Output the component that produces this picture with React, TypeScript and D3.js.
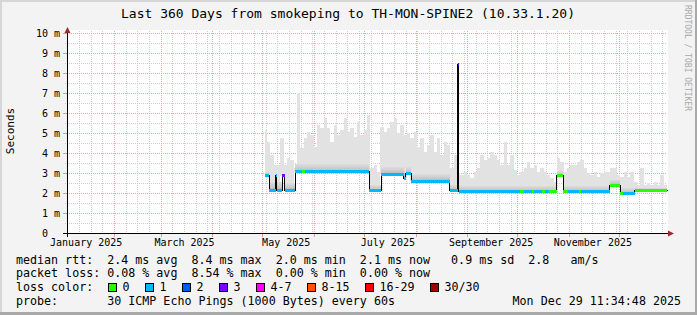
import React from 'react';
import * as d3 from 'd3';

// ---------- data ----------
const title = 'Last 360 Days from smokeping to TH-MON-SPINE2 (10.33.1.20)';
const startTime = new Date(2025, 0, 3, 11, 34, 48);
const endTime = new Date(2025, 11, 29, 11, 34, 48);

const yTickValues = [0, 1, 2, 3, 4, 5, 6, 7, 8, 9, 10];
const yTickLabels = ['0', '1 m', '2 m', '3 m', '4 m', '5 m', '6 m', '7 m', '8 m', '9 m', '10 m'];
const xLabelMonths = [0, 2, 4, 6, 8, 10];
const xLabelTexts = ['January 2025', 'March 2025', 'May 2025', 'July 2025', 'September 2025', 'November 2025'];

// smoke (max ping) samples, one every 2 days starting on day 119 of the window (ms)
const smokeFirstDay = 119;
const smokeStepDays = 2;
const smokeHigh = [
  5.18, 4.60, 3.93, 3.42, 3.42, 4.76, 3.42, 3.76, 3.68, 3.26,
  7.02, 4.26, 4.76, 5.10, 4.93, 4.35, 5.43, 5.26, 5.76, 5.26,
  4.60, 5.43, 4.93, 5.18, 5.76, 5.10, 5.26, 4.85, 5.60, 4.93,
  5.18, 5.93, 3.26, 3.42, 3.09, 5.35, 5.10, 5.26, 5.60, 5.76,
  5.01, 5.43, 4.93, 5.01, 4.76, 5.10, 4.35, 4.76, 4.09, 4.43,
  4.93, 4.09, 4.76, 3.93, 4.60, 4.43, 3.26, 3.93, 3.01, 2.93,
  3.09, 2.93, 2.76, 3.09, 3.26, 3.93, 3.68, 3.76, 4.09, 3.93,
  3.68, 3.42, 4.60, 3.42, 3.93, 3.18, 2.93, 3.09, 3.26, 3.60,
  3.26, 3.42, 3.09, 3.26, 3.09, 2.93, 2.76, 2.59, 3.76, 3.60,
  3.09, 3.26, 3.42, 3.42, 3.60, 3.68, 3.26, 3.01, 2.93, 3.09,
  2.84, 3.01, 3.09, 3.09, 3.26, 3.26, 2.93, 2.84, 3.09, 2.84,
  3.09, 2.59, 2.42, 3.26, 2.42, 2.51, 2.42, 2.59, 2.42, 2.93, 2.42,
];

// median rtt steps (day of window where step starts, value ms), dense smoke top per step
const medianDays = [119.0, 121.4, 125.2, 125.8, 129.0, 130.6, 137.0, 181.4, 188.6, 202.0, 203.2, 206.4, 229.6, 234.3, 235.0, 293.8, 297.6, 325.6, 332.0, 340.6];
const medianMs = [2.89, 2.17, 2.89, 2.17, 2.89, 2.17, 3.09, 2.14, 2.96, 2.76, 3.00, 2.62, 2.17, 8.45, 2.09, 2.89, 2.09, 2.42, 2.00, 2.14];
const denseTopMs = [3.1, 2.6, 2.95, 2.6, 3.0, 2.55, 3.5, 2.45, 3.35, 3.15, 3.35, 3.0, 2.45, 8.45, 2.4, 3.15, 2.4, 2.7, 2.3, 2.3];
const medianEndDay = 360;

// loss colour runs along the median
const lossFrom = [119, 129, 130.6, 141, 143, 234.3, 235.0, 272, 274, 279, 280, 285, 287, 289, 300.5, 307, 308.5, 325.6, 333.5, 340.6];
const lossTo = [129, 130.6, 141, 143, 234.3, 235.0, 272, 274, 279, 280, 285, 287, 289, 300.5, 307, 308.5, 325.6, 333.5, 340.6, 360];
const lossBucket = [1, 3, 1, 0, 1, 3, 1, 0, 1, 0, 1, 0, 1, 0, 1, 0, 1, 0, 1, 0];

const lossColors = ['#26ff00', '#00b8ff', '#0059ff', '#7e00ff', '#ff00ff', '#ff5500', '#ff0000', '#a10000'];
const lossLabels = ['0', '1', '2', '3', '4-7', '8-15', '16-29', '30/30'];

const legendLine1 = 'median rtt:  2.4 ms avg  8.4 ms max  2.0 ms min  2.1 ms now   0.9 ms sd  2.8   am/s';
const legendLine2 = 'packet loss: 0.08 % avg  8.54 % max  0.00 % min  0.00 % now';
const legendLine3 = 'loss color:';
const legendLine4 = 'probe:       30 ICMP Echo Pings (1000 Bytes) every 60s';
const timestampText = 'Mon Dec 29 11:34:48 2025';
const watermark = 'RRDTOOL / TOBI OETIKER';

// ---------- chart ----------
const W = 697;
const H = 315;
const MONO = '"DejaVu Sans Mono", "Liberation Mono", monospace';

export default function App() {
  const x = d3.scaleTime().domain([startTime, endTime]).range([67, 667]);
  const y = d3.scaleLinear().domain([0, 10]).range([233.5, 33.5]);
  const dayDate = (d: number) => new Date(startTime.getTime() + d * 86400000);
  const xd = (d: number) => x(dayDate(d));
  const snap = (v: number) => Math.floor(v) + 0.5;

  const medianAt = (d: number) => {
    let j = 0;
    for (let i = 0; i < medianDays.length; i++) if (medianDays[i] <= d) j = i;
    return medianMs[j];
  };

  const months = d3.timeMonth.range(d3.timeMonth.ceil(startTime), endTime);
  const weeks = d3.timeSaturday.range(startTime, endTime);

  const minorY = d3.range(0.5, 10, 1);

  const medPts: [number, number][] = medianDays.map((d, i) => [d, medianMs[i]]);
  medPts.push([medianEndDay, medianMs[medianMs.length - 1]]);
  const medLine = d3
    .line<[number, number]>()
    .x((p) => snap(xd(p[0])))
    .y((p) => y(p[1]))
    .curve(d3.curveStepAfter);

  const colored: { x1: number; x2: number; yy: number; c: string }[] = [];
  lossFrom.forEach((f, k) => {
    const t = lossTo[k];
    medianDays.forEach((md, j) => {
      const me = j + 1 < medianDays.length ? medianDays[j + 1] : medianEndDay;
      const a = Math.max(f, md);
      const b = Math.min(t, me);
      if (b > a) colored.push({ x1: xd(a), x2: xd(b), yy: y(medianMs[j]), c: lossColors[lossBucket[k]] });
    });
  });

  const boxX: number[] = [];
  let bx = 108;
  lossLabels.forEach((l) => {
    boxX.push(bx);
    bx += 30 + l.length * 7;
  });

  const tickMajor = '#e39a9a';
  const gridMajor = '#e8a7a7';
  const gridMinor = '#cdcdcd';

  return (
    <svg width={W} height={H} style={{ position: 'absolute', left: 0, top: 0, display: 'block' }} fontFamily={MONO}>
      <defs>
        <linearGradient id="dense" x1="0" y1="1" x2="0" y2="0">
          <stop offset="0" stopColor="#a4a4a4" />
          <stop offset="0.25" stopColor="#c4c4c4" />
          <stop offset="1" stopColor="#e0e0e0" />
        </linearGradient>
      </defs>
      <rect x={0} y={0} width={W} height={H} fill="#f3f3f3" />
      <rect x={0} y={0} width={W} height={2} fill="#d6d6d6" />
      <rect x={0} y={0} width={2} height={H} fill="#d6d6d6" />
      <rect x={0} y={H - 3} width={W} height={3} fill="#a9a9a9" />
      <rect x={W - 2} y={0} width={2} height={H} fill="#a9a9a9" />

      <rect x={67} y={30} width={601} height={204} fill="#ffffff" />

      <g stroke={gridMinor} strokeWidth={1} strokeDasharray="1,1" shapeRendering="crispEdges">
        {minorY.map((v) => (
          <line key={'my' + v} x1={65} x2={667} y1={snap(y(v))} y2={snap(y(v))} />
        ))}
        {weeks.map((w) => (
          <line key={'wx' + w.getTime()} x1={snap(x(w))} x2={snap(x(w))} y1={31} y2={235} />
        ))}
      </g>
      <g stroke={gridMajor} strokeWidth={1} strokeDasharray="1,1" shapeRendering="crispEdges">
        {yTickValues.slice(1).map((v) => (
          <line key={'My' + v} x1={63} x2={667} y1={snap(y(v))} y2={snap(y(v))} />
        ))}
        {months.map((m) => (
          <line key={'Mx' + m.getTime()} x1={snap(x(m))} x2={snap(x(m))} y1={31} y2={237} />
        ))}
      </g>
      <g stroke={tickMajor} strokeWidth={1} shapeRendering="crispEdges">
        {months.map((m) => (
          <line key={'Mt' + m.getTime()} x1={snap(x(m))} x2={snap(x(m))} y1={233} y2={237} />
        ))}
        {yTickValues.slice(1).map((v) => (
          <line key={'Yt' + v} x1={63} x2={67} y1={snap(y(v))} y2={snap(y(v))} />
        ))}
      </g>

      <g shapeRendering="crispEdges">
        {smokeHigh.map((h, i) => {
          const d = smokeFirstDay + i * smokeStepDays;
          const x0 = xd(Math.max(d - smokeStepDays / 2, smokeFirstDay - 0.4));
          const x1 = xd(Math.min(d + smokeStepDays / 2, medianEndDay));
          const m = medianAt(d);
          const top = y(Math.max(h, m));
          return <rect key={'s' + i} x={x0} y={top} width={x1 - x0} height={y(m) - top} fill="#e2e2e2" />;
        })}
        {medianDays.map((md, j) => {
          if (medianMs[j] > 6) return null;
          const me = j + 1 < medianDays.length ? medianDays[j + 1] : medianEndDay;
          const x0 = xd(md);
          const x1 = xd(me);
          const top = y(denseTopMs[j]);
          return <rect key={'dn' + j} x={x0} y={top} width={x1 - x0} height={y(medianMs[j]) - top} fill="url(#dense)" />;
        })}
      </g>

      <path d={medLine(medPts) || ''} fill="none" stroke="#000" strokeWidth={1} shapeRendering="crispEdges" />
      <g shapeRendering="crispEdges">
        {colored.map((s, i) => (
          <line key={'c' + i} x1={s.x1} x2={s.x2} y1={s.yy} y2={s.yy} stroke={s.c} strokeWidth={3} />
        ))}
      </g>

      <line x1={63} x2={670} y1={233.5} y2={233.5} stroke="#000" strokeWidth={1} shapeRendering="crispEdges" />
      <line x1={67.5} x2={67.5} y1={237} y2={30} stroke="#000" strokeWidth={1} shapeRendering="crispEdges" />
      <path d="M668,230.5 L674,233.5 L668,236.5 Z" fill="#9b2c2c" />
      <path d="M64.5,33 L67.5,27 L70.5,33 Z" fill="#9b2c2c" />

      <g fontSize={10} fill="#000">
        {yTickValues.map((v, i) => (
          <text key={'yl' + v} x={v === 0 ? 60 - 12.04 : 60} y={snap(y(v)) + 3.7} textAnchor="end">
            {yTickLabels[i]}
          </text>
        ))}
        {xLabelMonths.map((m, i) => (
          <text key={'xl' + m} x={x(new Date(2025, m, 15))} y={246} textAnchor="middle">
            {xLabelTexts[i]}
          </text>
        ))}
      </g>

      <text x={348} y={18.3} fontSize={13} textAnchor="middle" fill="#000">
        {title}
      </text>
      <text transform="translate(13.5,131) rotate(-90)" fontSize={11} textAnchor="middle" fill="#000">
        Seconds
      </text>
      <text transform="translate(685,58) rotate(90)" fontSize={8} textAnchor="middle" fill="#a8a8a8">
        {watermark}
      </text>

      <g fontSize={11.67} fill="#000" style={{ whiteSpace: 'pre' }}>
        <text x={16} y={263.5} style={{ whiteSpace: 'pre' }}>{legendLine1}</text>
        <text x={16} y={277} style={{ whiteSpace: 'pre' }}>{legendLine2}</text>
        <text x={16} y={290.5} style={{ whiteSpace: 'pre' }}>{legendLine3}</text>
        {lossLabels.map((l, i) => (
          <g key={'lg' + i}>
            <rect x={boxX[i] + 0.5} y={283.5} width={8} height={8} fill={lossColors[i]} stroke="#000" strokeWidth={1} shapeRendering="crispEdges" />
            <text x={boxX[i] + 14.5} y={290.5}>{l}</text>
          </g>
        ))}
        <text x={16} y={304.5} style={{ whiteSpace: 'pre' }}>{legendLine4}</text>
        <text x={681} y={304.5} textAnchor="end">{timestampText}</text>
      </g>
    </svg>
  );
}
